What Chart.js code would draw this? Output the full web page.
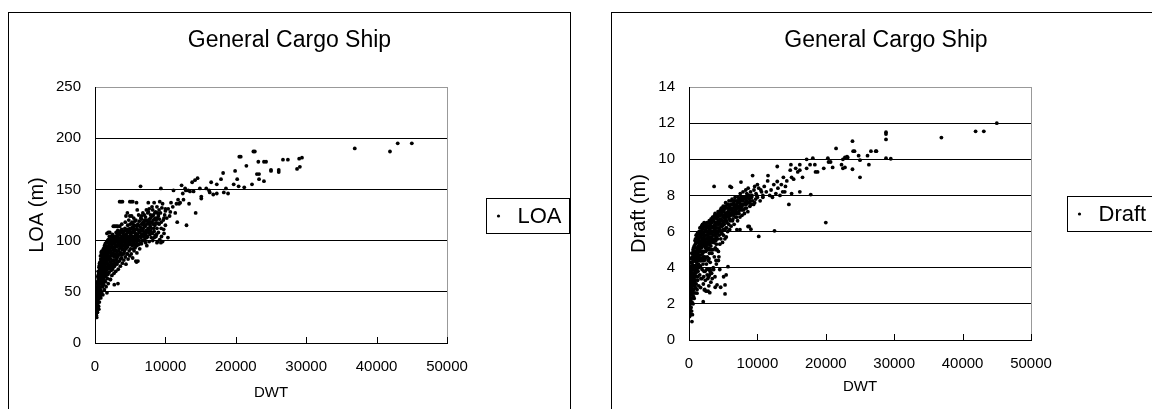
<!DOCTYPE html>
<html>
<head>
<meta charset="utf-8">
<script src="https://cdn.jsdelivr.net/npm/chart.js@4.4.1/dist/chart.umd.min.js"></script>
<style>
  body { margin: 0; background: #fff; overflow: hidden; width: 1152px; height: 409px; position: relative; }
  .frame { position: absolute; border: 1px solid #000; background: #fff; }
  canvas { position: absolute; }
</style>
</head>
<body>
<div class="frame" style="left:8px;top:12px;width:561px;height:420px"></div>
<div class="frame" style="left:611px;top:12px;width:600px;height:420px"></div>
<canvas id="loaChart" width="561" height="396" style="left:9px;top:13px"></canvas>
<canvas id="draftChart" width="540" height="396" style="left:612px;top:13px"></canvas>
<script>
const chartTitle = 'General Cargo Ship';
const dwtTicks = [0, 10000, 20000, 30000, 40000, 50000];
const loaTicks = [0, 50, 100, 150, 200, 250];
const draftTicks = [0, 2, 4, 6, 8, 10, 12, 14];

// [DWT, LOA] (dense cloud estimated by eye)
const loaPoints = [
  [0,32],[20,36],[50,28],[60,40],[80,34],[100,45],[100,30],[120,38],[140,50],[150,26],[160,42],[180,35],[200,47],[200,29],[220,52],[240,25],[250,40],[260,44],[280,33],[300,55],[300,37],
  [320,48],[340,60],[350,30],[380,42],[400,65],[420,52],[440,36],[450,70],[480,57],[500,45],[520,62],[540,33],[560,74],[580,50],[600,68],[620,40],[640,55],[650,78],[680,60],[700,47],[700,72],
  [720,64],[750,52],[780,85],[800,70],[820,44],[850,58],[870,76],[900,88],[920,62],[950,49],[980,80],[1000,67],[1020,90],[1050,55],[1080,73],[1100,84],[1120,47],[1150,62],[1180,78],[1200,92],[1200,69],
  [1250,57],[1280,86],[1300,74],[1330,52],[1360,95],[1400,66],[1420,80],[1450,90],[1480,60],[1500,72],[1550,84],[1580,55],[1600,98],[1650,68],[1680,77],[1700,92],[1750,63],[1780,86],[1800,100],[1850,73],[1880,58],[1900,81],[1950,95],[2000,69],[2000,88],
  [2050,76],[2100,99],[2150,62],[2200,85],[2250,104],[2300,71],[2350,93],[2400,66],[2450,80],[2500,106],[2550,88],[2600,74],[2650,97],[2700,68],[2750,84],[2800,102],[2850,78],[2900,91],[2950,70],[3000,108],[3000,86],
  [3050,95],[3100,77],[3150,101],[3200,84],[3250,110],[3300,72],[3350,90],[3400,98],[3450,80],[3500,106],[3550,88],[3600,75],[3650,94],[3700,103],[3750,83],[3800,111],[3850,91],[3900,78],[3950,99],[4000,87],[4000,107],
  [4050,95],[4100,81],[4150,103],[4200,90],[4250,112],[4300,84],[4350,98],[4400,77],[4450,106],[4500,93],[4550,87],[4600,101],[4650,115],[4700,82],[4750,96],[4800,108],[4850,90],[4900,103],[4950,85],[5000,98],[5000,116],
  [5050,92],[5100,106],[5150,87],[5200,100],[5250,118],[5300,95],[5350,83],[5400,110],[5450,98],[5500,104],[5550,90],[5600,115],[5650,100],[5700,93],[5750,107],[5800,120],[5850,97],[5900,102],[5950,88],[6000,111],[6000,99],
  [6100,104],[6150,96],[6200,115],[6300,100],[6350,92],[6400,108],[6500,122],[6550,103],[6600,97],[6700,112],[6750,105],[6800,118],[6900,100],[6950,108],[7000,125],
  [7100,102],[7150,114],[7200,98],[7300,108],[7400,120],[7450,104],[7500,127],[7600,110],[7700,99],[7750,116],[7800,106],[7900,122],[8000,112],[8000,103],
  [8100,118],[8200,100],[8300,125],[8400,109],[8500,115],[8600,128],[8650,104],[8700,120],[8800,112],[8900,99],[9000,124],[9000,108],
  [9100,116],[9200,101],[9300,127],[9400,112],[9600,99],[9700,120],[9800,107],[10000,129],[10000,115],
  [30,30],[90,43],[170,39],[230,31],[310,44],[370,58],[430,47],[470,63],[530,53],[590,44],[660,66],[710,58],[760,75],[830,63],[880,69],[960,73],[1030,60],[1090,79],[1140,71],[1220,83],[1270,64],[1340,76],[1390,88],[1440,69],[1520,79],[1570,93],[1620,74],[1720,81],[1820,90],[1920,76],
  [2080,92],[2180,79],[2280,97],[2380,86],[2480,93],[2580,81],[2680,103],[2780,90],[2880,98],[2980,95],[3120,89],[3220,96],[3330,103],[3420,92],[3580,100],[3680,88],[3780,97],[3880,104],[4080,100],[4180,96],[4280,105],[4380,92],[4480,99],[4580,108],[4680,103],[4880,97],
  [5080,101],[5180,112],[5380,103],[5480,108],[5680,110],[5880,106],[6080,116],[6250,108],[6450,113],[6650,106],[6850,112],[7050,115],[7250,110],[7550,112],[7850,114],[8250,116],[8550,105],
  [10,38],[70,31],[130,46],[190,27],[210,41],[270,49],[290,30],[330,52],[360,39],[410,58],[460,43],[490,67],[510,36],[550,59],[570,70],[610,49],[630,76],[670,54],[690,64],[730,79],[740,46],[790,61],[810,82],[840,71],[860,51],[890,80],[910,74],[940,66],[970,87],[990,55],
  [1040,83],[1060,70],[1110,88],[1130,58],[1160,81],[1190,66],[1210,75],[1240,90],[1260,70],[1290,80],[1320,93],[1350,61],[1380,83],[1410,74],[1460,97],[1490,85],[1530,65],[1560,88],[1590,80],[1630,94],[1660,71],[1690,87],[1730,99],[1760,78],[1790,94],[1830,67],[1860,85],[1890,101],[1940,88],[1970,74],
  [2020,96],[2070,84],[2120,73],[2170,101],[2220,90],[2270,77],[2320,100],[2370,75],[2420,95],[2470,72],[2520,98],[2570,77],[2620,91],[2670,80],[2720,99],[2770,75],[2820,94],[2870,86],[2920,104],[2970,81],
  [3030,101],[3080,82],[3130,94],[3180,106],[3230,79],[3280,99],[3320,86],[3370,108],[3440,86],[3520,95],[3560,109],[3620,82],[3660,101],[3720,93],[3770,108],[3820,86],[3870,96],[3920,109],[3970,92],
  [4030,104],[4120,88],[4220,99],[4320,110],[4420,96],[4520,104],[4620,94],[4720,111],[4820,100],[4920,109],[5020,105],[5120,96],[5220,108],[5320,113],[5420,92],[5520,112],[5620,96],[5720,102],[5820,111],[5920,95],
  [6020,106],[6180,110],[6320,104],[6420,97],[6520,110],[6620,116],[6720,100],[6880,117],[6980,104],[7120,119],[7220,106],[7350,116],[7480,110],[7650,118],[7720,108],[7950,109],[8150,107],[8350,112],[8450,121],[8750,106],[8950,117],
  [40,34],[110,41],[240,36],[320,40],[390,50],[450,55],[520,47],[600,58],[680,69],[760,60],[820,73],[900,65],[980,70],[1060,77],[1140,85],[1220,72],[1300,88],[1380,70],[1460,82],[1540,91],[1620,86],[1700,72],[1780,98],[1860,91],[1940,83],
  [2030,104],[2130,93],[2230,82],[2330,88],[2430,101],[2530,85],[2630,104],[2730,93],[2830,87],[2930,100],[3060,90],[3160,86],[3260,103],[3360,95],[3460,102],[3600,97],[3720,99],[3840,101],[3960,104],
  [4100,109],[4240,94],[4400,101],[4540,111],[4680,98],[4820,104],[4960,112],[5100,100],[5240,104],[5380,116],[5520,101],[5660,119],[5800,104],[5940,114],[6120,101],[6280,119],[6440,104],[6600,121],[6780,110],[6960,115],
  [7180,123],[7360,103],[7560,118],[7760,121],[7980,118],[8180,124],[8420,103],[8620,117],[8850,122],[9150,121],[9450,104],[9750,111],
  [5500,122],[6200,125],[6800,127],[7300,130],[7700,131],[8100,133],[8600,122],[9100,130],[9400,118],[9900,125],[5200,124],[4800,120],[4300,118],[3800,116],[6600,124],[7050,120],[8900,127],[9600,136],[10200,122],[10700,128],
  [6470,153],[9360,151],[3500,138],[3700,138],[3900,138],[4950,138],[5150,138],[5370,138],[5900,137],[7570,137],[8400,137],[9200,138],[6000,130],[4400,124],[4950,124],[4600,127],
  [2600,114],[2800,114],[3000,114],[3200,114],[3500,114],[1700,107],[1900,108],[2100,108],[900,89],[5800,80],[5900,79],[6100,80],[4600,87],[3260,58],[2740,57],[2200,62],[1700,49],[900,60],
  [8800,98],[9360,98],[7360,95],[10360,103],[10000,131],[10400,131],
  [7600,128],[7900,125],[8200,130],[8500,127],[8800,133],[9000,126],[9500,132],[9800,122],[8300,120],[7800,118],
  [11150,149],[11570,136],[11940,136],[11400,127],[12300,154],[12470,146],[12900,149],[13250,149],[13500,148],[13800,157],[14200,159],[14570,161],[14300,127],[13000,115],[12570,140],[13360,136],[11680,118],[11050,133],[10600,124],[11800,140],[12100,137],[10800,137],[12800,151],[14000,148],
  [14900,151],[15100,143],[15100,141],[15800,151],[16200,149],[16300,147],[16500,157],[16800,145],[17300,146],[17300,155],[17900,160],[18200,166],[18300,147],[18600,151],[18900,146],[19700,155],[19900,168],[20200,160],[20400,153],[20500,182],[20700,182],[21200,152],[21500,173],[22300,155],
  [22500,187],[22700,187],[23000,165],[23300,165],[23300,160],[23200,177],[24000,177],[24300,177],[24000,158],[25000,169],[25000,168],[26100,169],[26100,167],[26700,179],[27400,179],[28700,170],[29100,172],[29000,180],[29400,181],
  [36900,190],[41900,187],[43000,195],[45000,195]
];

// [DWT, Draft]
const draftPoints = [
  [0,1.9],[20,2.4],[40,1.5],[60,2.8],[80,1.3],[100,3.2],[100,2.0],[120,2.6],[140,3.6],[150,1.7],[170,2.9],[190,3.9],[200,2.2],[220,1.4],[240,3.3],[260,2.5],[280,4.1],[300,1.8],[300,3.0],
  [320,3.6],[340,2.3],[360,4.3],[380,1.6],[400,2.8],[420,3.9],[440,2.1],[460,4.6],[480,3.3],[500,1.4],[520,2.6],[540,4.1],[560,3.0],[580,4.8],[600,2.0],[620,3.7],[640,4.4],[660,2.4],[680,3.4],[700,4.9],[700,2.8],
  [720,3.9],[750,2.3],[780,4.5],[800,3.2],[820,5.1],[850,2.6],[870,4.1],[900,3.5],[920,5.3],[950,2.9],[980,4.7],[1000,3.7],[1030,5.4],[1050,3.1],[1080,4.3],[1100,5.6],[1130,3.5],[1150,4.9],[1180,2.8],[1200,4.0],[1200,5.7],
  [1250,3.3],[1280,4.6],[1300,5.4],[1330,3.8],[1360,5.9],[1400,4.2],[1430,3.0],[1460,5.1],[1500,4.5],[1540,5.7],[1570,3.6],[1600,4.9],[1640,6.0],[1680,4.1],[1700,5.3],[1740,3.4],[1780,4.7],[1800,5.9],[1850,4.4],[1880,5.5],[1920,3.9],[1950,6.1],[2000,4.8],[2000,5.6],
  [2050,4.2],[2100,5.9],[2150,3.5],[2200,5.2],[2250,6.3],[2300,4.6],[2350,3.8],[2400,5.6],[2450,4.9],[2500,6.4],[2550,4.2],[2600,5.4],[2650,3.6],[2700,6.0],[2750,5.0],[2800,4.4],[2850,6.5],[2900,5.5],[2950,3.9],[3000,6.1],[3000,4.8],
  [3050,5.7],[3100,4.3],[3150,6.6],[3200,5.2],[3250,3.7],[3300,6.0],[3350,4.8],[3400,5.6],[3450,6.8],[3500,5.0],[3550,4.0],[3600,6.3],[3650,5.4],[3700,4.6],[3750,6.9],[3800,5.8],[3850,5.1],[3900,6.5],[3950,4.4],[4000,6.0],[4000,5.3],
  [4050,6.7],[4100,5.0],[4150,6.2],[4200,5.6],[4250,7.1],[4300,4.9],[4350,6.4],[4400,5.8],[4450,6.9],[4500,5.3],[4550,6.1],[4600,7.2],[4650,5.6],[4700,6.6],[4750,5.9],[4800,7.0],[4850,6.3],[4900,5.4],[4950,6.8],[5000,6.1],[5000,7.4],
  [5050,5.8],[5100,6.9],[5150,6.4],[5200,7.3],[5250,5.6],[5300,6.7],[5350,7.6],[5400,6.2],[5450,5.7],[5500,7.0],[5550,6.5],[5600,7.5],[5650,6.0],[5700,6.9],[5750,7.3],[5800,6.4],[5850,7.7],[5900,6.7],[5950,6.1],[6000,7.2],[6000,6.6],
  [6100,7.5],[6150,6.3],[6200,7.0],[6300,7.8],[6350,6.6],[6400,7.3],[6500,6.9],[6550,7.6],[6600,6.4],[6700,7.2],[6750,7.9],[6800,6.8],[6900,7.4],[6950,7.0],[7000,7.7],
  [7100,6.6],[7150,7.3],[7200,7.9],[7300,7.0],[7400,7.6],[7450,6.8],[7500,8.1],[7600,7.3],[7700,7.8],[7750,6.9],[7800,7.5],[7900,8.2],[8000,7.2],[8000,7.8],
  [8100,7.0],[8200,7.6],[8300,8.3],[8400,7.3],[8500,7.9],[8600,7.1],[8650,8.4],[8700,7.6],[8800,8.0],[8900,7.4],[9000,8.2],[9000,7.7],
  [9100,7.5],[9200,8.0],[9300,7.7],[9500,8.3],[9600,7.6],[9800,8.1],[10000,7.9],[10200,8.4],[10400,7.7],[10600,8.2],[10800,8.0],
  [30,2.2],[90,2.6],[160,2.2],[210,3.5],[270,2.9],[330,3.1],[390,3.5],[450,2.5],[510,3.7],[570,3.4],[630,3.1],[690,4.1],[740,4.7],[790,3.7],[860,4.4],[940,4.1],[1010,4.9],[1070,3.9],[1140,4.5],[1220,5.0],[1290,4.1],[1370,4.9],[1450,5.5],[1520,5.0],[1610,5.4],[1710,4.9],[1820,5.1],[1900,5.3],
  [2080,5.5],[2180,4.9],[2280,5.8],[2380,5.1],[2480,5.8],[2580,5.0],[2680,5.6],[2780,5.9],[2880,5.1],[2980,5.6],[3120,5.9],[3220,6.2],[3330,5.5],[3420,6.2],[3580,5.8],[3680,6.3],[3780,6.1],[3880,5.9],[4080,6.4],[4180,5.9],[4280,6.6],[4380,6.2],[4480,6.5],[4580,6.7],[4680,6.3],[4880,6.6],
  [5080,6.5],[5180,6.8],[5380,7.0],[5480,6.6],[5680,7.1],[5880,7.0],[6080,6.9],[6250,7.2],[6450,7.1],[6650,7.4],[6850,7.1],[7050,7.3],[7250,7.4],[7550,7.5],[7850,7.7],[8250,7.8],[8550,7.6],
  [10,2.8],[50,3.4],[70,1.7],[110,3.9],[130,2.3],[180,4.3],[230,2.7],[250,3.8],[290,4.5],[310,2.5],[350,3.9],[370,2.9],[400,4.8],[430,3.2],[470,4.1],[490,2.7],[530,4.5],[550,3.6],[590,5.0],[610,3.3],[650,4.0],[670,5.1],[710,3.6],[730,4.4],[760,5.2],[770,3.0],[810,4.8],[830,4.0],[880,5.5],[890,3.3],[930,4.6],[960,5.6],[970,3.8],
  [1020,4.5],[1040,5.8],[1090,4.8],[1120,4.1],[1160,5.4],[1190,4.4],[1230,5.9],[1260,4.8],[1310,3.5],[1340,5.2],[1390,5.6],[1420,4.6],[1470,6.0],[1490,4.0],[1530,5.5],[1560,4.7],[1590,6.2],[1630,4.4],[1660,5.7],[1690,5.1],[1730,6.2],[1760,4.5],[1790,5.4],[1830,6.3],[1860,4.9],[1890,5.8],[1940,4.5],[1970,6.4],
  [2020,5.3],[2070,6.2],[2120,4.6],[2170,5.7],[2220,6.5],[2270,5.4],[2320,6.0],[2370,4.5],[2420,6.3],[2470,5.3],[2520,6.0],[2570,5.6],[2620,6.5],[2670,4.6],[2720,5.4],[2770,6.3],[2820,5.7],[2870,6.2],[2920,4.5],[2970,6.6],
  [3030,5.3],[3080,6.4],[3130,5.0],[3180,6.0],[3230,6.7],[3280,5.0],[3320,6.5],[3370,5.9],[3440,6.0],[3520,6.7],[3560,5.5],[3620,6.0],[3660,6.8],[3720,5.6],[3770,6.4],[3820,7.0],[3870,6.2],[3920,5.5],[3970,6.9],
  [4030,5.7],[4120,6.8],[4220,6.0],[4320,7.0],[4420,6.5],[4520,7.1],[4620,6.0],[4720,7.3],[4820,5.9],[4920,7.2],[5020,6.8],[5120,7.2],[5220,6.1],[5320,7.4],[5420,6.9],[5520,6.2],[5620,7.0],[5720,7.5],[5820,6.8],[5920,7.4],
  [6020,7.0],[6180,7.7],[6320,7.1],[6420,6.7],[6520,7.5],[6620,7.0],[6720,7.7],[6880,7.3],[6980,6.8],[7120,7.6],[7220,7.1],[7350,7.8],[7480,7.2],[7650,7.9],[7720,7.4],[7950,7.5],[8150,7.9],[8350,7.5],[8450,8.1],[8750,7.8],[8950,7.9],
  [40,2.6],[110,2.9],[240,2.0],[320,4.0],[390,3.1],[450,3.7],[520,4.3],[600,3.9],[680,4.6],[760,4.1],[820,3.5],[900,4.9],[980,4.4],[1060,5.1],[1140,3.9],[1220,4.6],[1300,5.0],[1380,4.4],[1460,4.7],[1540,5.3],[1620,5.8],[1700,4.4],[1780,5.2],[1860,6.0],[1940,5.6],
  [2030,4.9],[2130,5.4],[2230,4.4],[2330,5.5],[2430,6.1],[2530,5.2],[2630,6.2],[2730,5.8],[2830,5.3],[2930,6.3],[3060,5.4],[3160,6.3],[3260,5.7],[3360,6.5],[3460,5.4],[3600,6.6],[3720,6.2],[3840,6.8],[3960,6.2],
  [4100,6.5],[4240,6.8],[4400,6.1],[4540,6.9],[4680,7.1],[4820,6.4],[4960,6.9],[5100,7.1],[5240,6.6],[5380,7.3],[5520,6.8],[5660,7.3],[5800,7.1],[5940,6.9],[6120,7.3],[6280,7.5],[6440,7.0],[6600,7.7],[6780,7.2],[6960,7.5],
  [7180,7.7],[7360,7.3],[7560,7.7],[7760,7.2],[7980,7.9],[8180,7.3],[8420,7.7],[8620,8.0],[8850,7.6],[9150,7.9],[9450,7.5],[9750,7.8],
  [1700,2.9],[1900,3.4],[2100,3.1],[2200,3.8],[2400,3.3],[2500,2.7],[2600,3.9],[2750,3.4],[2900,3.0],[3000,3.6],[3100,3.9],[3200,3.2],[3300,3.7],[3400,3.4],[3600,3.9],[3800,3.5],[4000,4.2],[4300,4.4],[4500,3.9],[2300,2.8],[2800,2.7],
  [3670,8.5],[6000,8.5],[6200,8.45],[7600,8.74],[9300,9.1],[10200,5.73],[12500,6.04],[14600,7.5],[11550,9.1],[12900,9.6],[14900,9.7],[12900,8.77],[13700,8.2],[8800,6.28],[9050,6.13],[7000,6.1],[7450,6.1],
  [5700,4.06],[5430,3.6],[5060,3.5],[5270,3.05],[4630,2.92],[5270,2.55],[3830,2.92],[4100,3.05],[3035,2.62],[2080,2.12],[2880,3.5],[3090,3.79],[2240,2.77],[1170,2.59],[430,1.02],[100,1.38],[0,1.88],[4370,4.6],[3940,5.0],[8630,6.28],
  [10500,8.3],[10800,7.9],[11000,8.5],[11300,8.2],[11500,8.8],[11800,8.0],[12000,8.3],[12200,7.9],[12400,8.6],[12700,8.1],[13000,8.4],[13300,8.0],[13500,8.6],[13800,9.0],[14100,8.5],[14300,8.8],[14800,9.4],[15000,9.0],[15300,8.9],[15600,9.5],[15900,9.3],[15000,8.1],[14000,8.2],[9600,8.5],[10000,8.6],[9900,8.0],
  [16200,9.7],[16200,9.4],[16200,8.2],[16600,9.0],[17200,10.0],[17200,9.5],[17700,9.7],[17800,8.05],[18100,10.06],[18400,9.7],[18500,9.3],[18800,9.3],[19700,9.5],[20000,6.5],[20300,10.06],[20400,9.85],[20700,9.85],
  [21000,9.55],[21500,10.6],[22300,9.7],[22500,9.5],[22500,10.0],[22800,9.55],[22800,10.1],[23100,10.15],[23200,10.1],[23900,11.0],[23900,9.45],[24000,10.45],[24200,10.45],[24800,10.2],[25000,9.95],[25000,9.0],
  [26100,10.2],[26300,9.7],[26600,10.45],[27300,10.45],[27400,10.45],[28800,11.5],[28800,11.4],[28800,11.1],[28800,10.06],[29500,10.03],
  [36900,11.2],[41900,11.55],[43100,11.55],[45000,12.0]
];

Chart.defaults.font.family = "'Liberation Sans', Arial, sans-serif";
Chart.defaults.color = '#000';

// panel title centred over the whole panel, not just over the plot
const panelTitle = {
  id: 'panelTitle',
  afterDraw(chart, args, opts) {
    const { ctx } = chart;
    ctx.save();
    ctx.font = opts.size + 'px ' + Chart.defaults.font.family;
    ctx.fillStyle = '#000';
    ctx.textAlign = 'center';
    ctx.textBaseline = 'middle';
    ctx.fillText(opts.text, chart.width / 2 + opts.shift, opts.y);
    ctx.restore();
  }
};

// boxed legend to the right of the plot, like the spreadsheet original
const legendBox = {
  id: 'legendBox',
  afterDatasetsDraw(chart, args, opts) {
    const { ctx, chartArea } = chart;
    const label = chart.data.datasets[0].label;
    ctx.save();
    ctx.font = opts.size + 'px ' + Chart.defaults.font.family;
    const tw = ctx.measureText(label).width;
    const x0 = Math.round(chartArea.right + opts.gap) + 0.5;
    const y0 = Math.round((chartArea.top + chartArea.bottom) / 2 - opts.height / 2) + 0.5;
    ctx.strokeStyle = '#000';
    ctx.lineWidth = 1;
    ctx.strokeRect(x0, y0, Math.round(31 + tw + 8), opts.height);
    ctx.fillStyle = '#000';
    ctx.beginPath();
    ctx.arc(x0 + 12, y0 + opts.height / 2, 1.6, 0, Math.PI * 2);
    ctx.fill();
    ctx.textBaseline = 'middle';
    ctx.fillText(label, x0 + 31, y0 + opts.height / 2 + 1);
    ctx.restore();
  }
};

// short tick marks pointing into the plot on the x axis
const innerTicks = {
  id: 'innerTicks',
  afterDraw(chart) {
    const { ctx } = chart;
    const sx = chart.scales.x;
    ctx.save();
    ctx.strokeStyle = '#000';
    ctx.lineWidth = 1;
    sx.ticks.forEach(t => {
      const px = Math.round(sx.getPixelForValue(t.value)) + 0.5;
      ctx.beginPath();
      ctx.moveTo(px, sx.top);
      ctx.lineTo(px, sx.top - 6);
      ctx.stroke();
    });
    ctx.restore();
  }
};

function makeChart(id, points, label, yTicks, yTitle, geo) {
  const yMax = yTicks[yTicks.length - 1];
  const xMax = dwtTicks[dwtTicks.length - 1];
  return new Chart(document.getElementById(id), {
    type: 'scatter',
    data: {
      datasets: [{
        label: label,
        data: points.map(([x, y]) => ({ x, y })),
        backgroundColor: '#000',
        borderWidth: 0,
        pointRadius: 1.9,
        pointHoverRadius: 1.9
      }]
    },
    options: {
      responsive: false,
      animation: false,
      events: [],
      layout: { padding: { left: 0, top: 74, right: geo.padRight, bottom: 0 } },
      plugins: {
        legend: { display: false },
        tooltip: { enabled: false },
        title: { display: false },
        panelTitle: { text: chartTitle, size: 23, y: 28, shift: geo.titleShift },
        legendBox: { gap: geo.legendGap, height: 35, size: 22 }
      },
      scales: {
        x: {
          type: 'linear',
          min: 0,
          max: xMax,
          afterBuildTicks: s => { s.ticks = dwtTicks.map(v => ({ value: v })); },
          afterFit: s => { s.height = geo.xHeight; },
          ticks: { font: { size: 15 }, padding: 15, maxRotation: 0, callback: v => String(v) },
          grid: {
            drawTicks: false,
            color: c => (c.tick && c.tick.value === xMax ? '#999' : 'rgba(0,0,0,0)')
          },
          border: { color: '#000', width: 1 },
          title: { display: true, text: 'DWT', font: { size: 15 }, padding: { top: 0, bottom: geo.xTitlePad } }
        },
        y: {
          type: 'linear',
          min: 0,
          max: yMax,
          afterBuildTicks: s => { s.ticks = yTicks.map(v => ({ value: v })); },
          afterFit: s => { s.width = geo.yWidth; },
          ticks: { font: { size: 15 }, padding: 14 },
          grid: {
            drawTicks: false,
            color: c => (c.tick && c.tick.value === yMax ? '#999' : '#000')
          },
          border: { color: '#000', width: 1 },
          title: { display: true, text: yTitle, font: { size: 20 }, padding: { top: geo.yTitlePad, bottom: 0 } }
        }
      }
    },
    plugins: [legendBox, innerTicks, panelTitle]
  });
}

makeChart('loaChart', loaPoints, 'LOA', loaTicks, 'LOA (m)',
  { yWidth: 86, xHeight: 66, padRight: 123, xTitlePad: 7, yTitlePad: 16, legendGap: 39, titleShift: 0 });
makeChart('draftChart', draftPoints, 'Draft', draftTicks, 'Draft (m)',
  { yWidth: 77, xHeight: 69, padRight: 121, xTitlePad: 13, yTitlePad: 15, legendGap: 36, titleShift: 4 });
</script>
</body>
</html>
